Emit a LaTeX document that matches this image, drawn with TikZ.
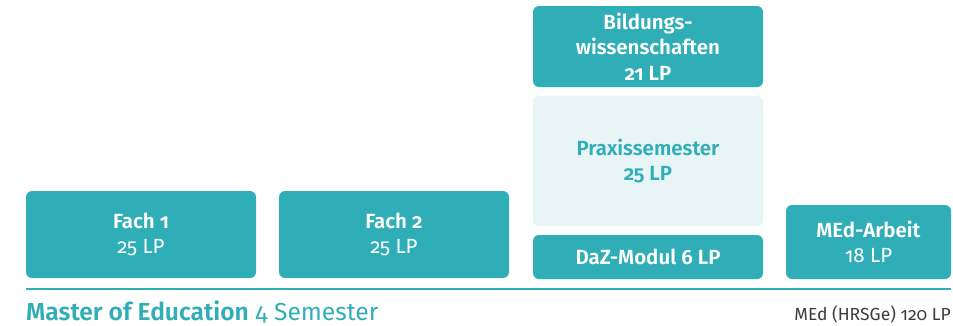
\documentclass[tikz,border=0pt]{standalone}
\usepackage{fontspec}
\setmainfont{Fira Sans}[Numbers=OldStyle, BoldFont={Fira Sans SemiBold}]
\usepackage{xcolor}
\usetikzlibrary{positioning}
\definecolor{medteal}{HTML}{30AEB7}
\definecolor{medpale}{HTML}{E8F4F6}
\definecolor{medgray}{HTML}{3C3C3C}
\tikzset{
    modbox/.style={fill=medteal, rounded corners=6pt, text=white, align=center,
        inner sep=0pt, font=\fontsize{20.5}{25.5}\selectfont},
    praxbox/.style={modbox, fill=medpale, text=medteal},
}

\begin{document}
\begin{tikzpicture}[x=1pt, y=-1pt]
    \useasboundingbox (0, 0) rectangle (953, 325);
    \node [modbox, minimum width=230pt, minimum height=87pt] (fach1) at (141, 234.5) {\textbf{Fach 1}\\25 LP};
    \node [modbox, minimum width=230pt, minimum height=87pt] (fach2) at (394, 234.5) {\textbf{Fach 2}\\25 LP};
    \node [modbox, minimum width=230pt, minimum height=81pt] (bild) at (648, 46.5) {\textbf{Bildungs-}\\\textbf{wissenschaften}\\\textbf{21 LP}};
    \node [praxbox, minimum width=230pt, minimum height=130pt] (prax) at (648, 161) {\textbf{Praxissemester}\\\textbf{25 LP}};
    \node [modbox, minimum width=230pt, minimum height=44pt] (daz) at (648, 257) {\textbf{DaZ-Modul 6 LP}};
    \node [modbox, minimum width=165pt, minimum height=74pt] (arbeit) at (868.5, 242) {\textbf{MEd-Arbeit}\\18 LP};
    % Grundlinie
    \coordinate (rulel) at (26, 289);
    \coordinate (ruler) at (951, 289);
    \draw [medteal, line width=2pt] (rulel) -- (ruler);
    \node [anchor=base west, inner sep=0pt, text=medteal, font=\fontsize{24.6}{28}\selectfont] (title) at (26, 320) {\textbf{Master of Education} 4 Semester};
    \node [anchor=base east, inner sep=0pt, text=medgray, font=\fontsize{17.5}{20}\selectfont] (total) at (951, 320) {MEd (HRSGe) 120 LP};
\end{tikzpicture}
\end{document}
